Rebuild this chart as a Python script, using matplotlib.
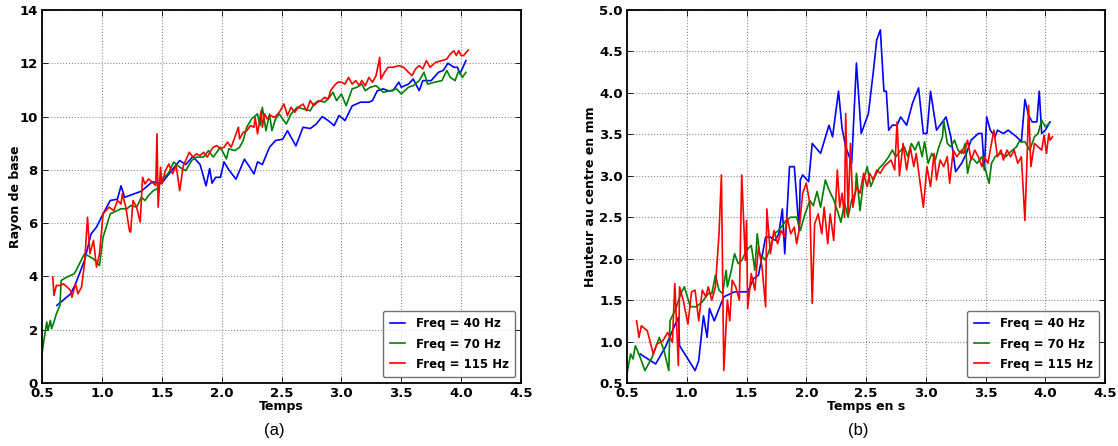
import numpy as np
import matplotlib
matplotlib.use("Agg")
import matplotlib.pyplot as plt

# ---- (a) Rayon de base ----
a_t40 = [0.624, 0.74, 0.78, 0.855, 0.91, 0.955, 1.01, 1.07, 1.13, 1.16, 1.19, 1.33, 1.42, 1.5, 1.56,
         1.65, 1.7, 1.76, 1.82, 1.87, 1.9, 1.92, 1.95, 1.99, 2.02, 2.06, 2.12, 2.19, 2.22, 2.27, 2.3,
         2.34, 2.4, 2.45, 2.51, 2.55, 2.58, 2.62, 2.68, 2.74, 2.79, 2.84, 2.89, 2.94, 2.98, 3.03, 3.09,
         3.16, 3.23, 3.26, 3.3, 3.35, 3.39, 3.43, 3.48, 3.5, 3.56, 3.6, 3.65, 3.68, 3.75, 3.81, 3.85,
         3.89, 3.94, 3.97, 3.99, 4.04]
a_r40 = [2.91, 3.35, 3.72, 4.6, 5.6, 5.85, 6.35, 6.85, 6.9, 7.4, 6.97, 7.2, 7.55, 7.5, 7.85,
         8.35, 8.2, 8.5, 8.2, 7.4, 8.05, 7.5, 7.72, 7.72, 8.3, 8.0, 7.65, 8.4, 8.2, 7.85, 8.3,
         8.2, 8.85, 9.1, 9.15, 9.47, 9.22, 8.9, 9.6, 9.55, 9.72, 10.0, 9.85, 9.66, 10.04, 9.85, 10.4,
         10.54, 10.54, 10.6, 10.97, 11.04, 10.97, 10.97, 11.29, 11.1, 11.22, 11.41, 10.97, 11.35, 11.35, 11.66, 11.73,
         12.0, 11.85, 11.85, 11.6, 12.1]

a_t70 = [0.5, 0.52, 0.54, 0.55, 0.57, 0.58, 0.6, 0.62, 0.65, 0.66, 0.71, 0.77, 0.855, 0.93, 0.98,
         1.01, 1.07, 1.1, 1.16, 1.21, 1.24, 1.29, 1.33, 1.36, 1.39, 1.43, 1.46, 1.5, 1.56, 1.6,
         1.65, 1.7, 1.75, 1.79, 1.85, 1.89, 1.93, 1.99, 2.04, 2.06, 2.11, 2.15, 2.18, 2.21, 2.25,
         2.3, 2.32, 2.34, 2.37, 2.4, 2.42, 2.45, 2.48, 2.54, 2.58, 2.63, 2.68, 2.74, 2.77, 2.81,
         2.86, 2.9, 2.93, 2.96, 3.0, 3.04, 3.09, 3.13, 3.17, 3.2, 3.24, 3.29, 3.35, 3.41, 3.46,
         3.5, 3.56, 3.6, 3.65, 3.69, 3.72, 3.78, 3.84, 3.88, 3.91, 3.95, 3.98, 4.01, 4.04]
a_r70 = [1.1, 1.72, 2.29, 1.98, 2.35, 2.04, 2.29, 2.6, 2.91, 3.85, 3.98, 4.1, 4.85, 4.66, 4.41,
         5.47, 6.35, 6.41, 6.54, 6.54, 6.66, 6.6, 6.97, 6.85, 7.04, 7.22, 7.29, 7.6, 7.91, 8.29,
         8.1, 7.97, 8.35, 8.48, 8.48, 8.72, 8.48, 8.85, 8.41, 8.79, 8.72, 8.85, 9.1, 9.6, 9.91,
         10.1, 9.66, 10.35, 9.47, 10.1, 9.47, 9.91, 10.1, 9.72, 10.1, 10.35, 10.29, 10.22, 10.47, 10.6,
         10.54, 10.72, 10.91, 10.6, 10.85, 10.41, 11.04, 11.1, 11.22, 10.97, 11.1, 11.16, 10.91, 10.97, 11.04,
         10.85, 11.1, 11.16, 11.35, 11.66, 11.22, 11.29, 11.35, 11.73, 11.47, 11.35, 11.73, 11.47, 11.66]

a_t115 = [0.59, 0.6, 0.62, 0.65, 0.68, 0.71, 0.74, 0.75, 0.78, 0.8, 0.83, 0.855, 0.88, 0.9, 0.93,
          0.955, 0.98, 1.01, 1.06, 1.1, 1.13, 1.16, 1.17, 1.2, 1.23, 1.24, 1.26, 1.29, 1.32, 1.34,
          1.36, 1.39, 1.42, 1.45, 1.46, 1.47, 1.49, 1.5, 1.53, 1.56, 1.59, 1.62, 1.65, 1.68, 1.7,
          1.73, 1.76, 1.79, 1.82, 1.85, 1.88, 1.91, 1.93, 1.96, 1.99, 2.02, 2.05, 2.08, 2.11, 2.14,
          2.15, 2.18, 2.21, 2.24, 2.27, 2.28, 2.3, 2.33, 2.34, 2.36, 2.38, 2.41, 2.44, 2.47, 2.49,
          2.52, 2.55, 2.58, 2.61, 2.64, 2.68, 2.71, 2.74, 2.77, 2.8, 2.83, 2.86, 2.89, 2.91, 2.94,
          2.97, 3.0, 3.03, 3.06, 3.09, 3.12, 3.15, 3.17, 3.2, 3.23, 3.26, 3.29, 3.32, 3.33, 3.36,
          3.39, 3.43, 3.48, 3.52, 3.56, 3.59, 3.62, 3.65, 3.68, 3.71, 3.74, 3.77, 3.79, 3.84, 3.88,
          3.91, 3.94, 3.96, 3.98, 4.0, 4.02, 4.06]
a_r115 = [3.98, 3.29, 3.66, 3.66, 3.72, 3.6, 3.47, 3.22, 3.72, 3.35, 3.6, 4.47, 6.22, 4.85, 5.35,
          4.35, 4.85, 6.35, 6.6, 6.47, 6.85, 6.72, 7.1, 6.6, 5.72, 5.66, 6.85, 6.6, 6.04, 7.72,
          7.47, 7.66, 7.54, 7.41, 9.35, 6.6, 8.1, 7.47, 7.97, 8.22, 7.85, 8.16, 7.22, 8.16, 8.35,
          8.66, 8.48, 8.6, 8.54, 8.66, 8.48, 8.72, 8.85, 8.91, 8.79, 8.85, 9.04, 8.85, 9.22, 9.6,
          9.16, 9.41, 9.47, 9.66, 9.6, 9.97, 9.35, 10.22, 9.6, 10.1, 9.91, 10.04, 9.97, 10.1, 10.22,
          10.47, 10.04, 10.35, 10.16, 10.35, 10.47, 10.22, 10.6, 10.41, 10.54, 10.6, 10.72, 10.66, 10.97, 11.16,
          11.29, 11.29, 11.22, 11.47, 11.22, 11.35, 11.16, 11.35, 11.16, 11.47, 11.29, 11.54, 12.22, 11.41, 11.66,
          11.85, 11.85, 11.91, 11.85, 11.66, 11.54, 11.79, 11.91, 11.79, 12.1, 11.85, 11.97, 12.04, 12.1, 12.16,
          12.35, 12.47, 12.29, 12.47, 12.29, 12.29, 12.5]

# ---- (b) Hauteur au centre ----
b_t40 = [0.61, 0.74, 0.82, 0.88, 0.93, 0.94, 1.07, 1.1, 1.14, 1.17, 1.19, 1.23, 1.31, 1.4, 1.51,
         1.56, 1.6, 1.66, 1.7, 1.74, 1.77, 1.8, 1.82, 1.86, 1.9, 1.94, 1.95, 1.97, 2.02, 2.05,
         2.12, 2.19, 2.22, 2.27, 2.3, 2.33, 2.38, 2.42, 2.46, 2.52, 2.56, 2.59, 2.62, 2.65, 2.67,
         2.69, 2.72, 2.76, 2.79, 2.84, 2.89, 2.94, 2.98, 3.01, 3.04, 3.09, 3.17, 3.21, 3.25, 3.3,
         3.34, 3.38, 3.44, 3.47, 3.49, 3.51, 3.54, 3.58, 3.6, 3.65, 3.69, 3.76, 3.8, 3.83, 3.86,
         3.89, 3.93, 3.95, 3.97, 4.0, 4.04]
b_h40 = [0.85, 0.73, 0.93, 1.13, 1.29, 0.95, 0.65, 0.77, 1.31, 1.05, 1.4, 1.25, 1.54, 1.6, 1.6,
         1.76, 1.8, 2.26, 2.26, 2.22, 2.3, 2.6, 2.06, 3.11, 3.11, 2.34, 2.95, 3.01, 2.93, 3.39,
         3.27, 3.61, 3.47, 4.02, 3.57, 3.35, 3.15, 4.36, 3.51, 3.75, 4.24, 4.64, 4.76, 4.02, 4.02,
         3.55, 3.61, 3.61, 3.71, 3.61, 3.88, 4.06, 3.51, 3.51, 4.02, 3.55, 3.71, 3.47, 3.05, 3.15,
         3.27, 3.43, 3.51, 3.51, 3.07, 3.71, 3.55, 3.47, 3.55, 3.51, 3.55, 3.47, 3.41, 3.92, 3.73,
         3.65, 3.65, 4.02, 3.51, 3.55, 3.65]

b_t70 = [0.5, 0.53, 0.55, 0.57, 0.61, 0.65, 0.71, 0.77, 0.81, 0.85, 0.86, 0.91, 0.95, 0.98, 1.03,
         1.08, 1.13, 1.18, 1.21, 1.24, 1.27, 1.3, 1.33, 1.34, 1.37, 1.4, 1.43, 1.46, 1.5, 1.54,
         1.57, 1.59, 1.61, 1.66, 1.7, 1.73, 1.77, 1.83, 1.87, 1.92, 1.95, 1.99, 2.03, 2.06, 2.09,
         2.12, 2.16, 2.19, 2.23, 2.26, 2.29, 2.32, 2.35, 2.38, 2.41, 2.42, 2.45, 2.48, 2.51, 2.54,
         2.58, 2.61, 2.65, 2.69, 2.72, 2.75, 2.78, 2.82, 2.85, 2.88, 2.91, 2.94, 2.97, 2.99, 3.02,
         3.05, 3.08, 3.11, 3.14, 3.15, 3.18, 3.21, 3.24, 3.27, 3.3, 3.33, 3.35, 3.38, 3.43, 3.47,
         3.5, 3.53, 3.55, 3.58, 3.63, 3.67, 3.71, 3.76, 3.78, 3.83, 3.87, 3.91, 3.94, 3.97, 4.0, 4.03]
b_h70 = [0.61, 0.85, 0.79, 0.95, 0.81, 0.65, 0.81, 1.05, 0.89, 0.65, 1.25, 1.4, 1.58, 1.66, 1.42,
         1.42, 1.48, 1.58, 1.58, 1.8, 1.62, 1.58, 1.86, 1.66, 1.84, 2.06, 1.94, 1.98, 2.1, 2.16,
         1.86, 2.3, 2.06, 1.98, 2.14, 2.3, 2.34, 2.46, 2.5, 2.5, 2.34, 2.54, 2.7, 2.64, 2.81,
         2.62, 2.95, 2.83, 2.71, 2.58, 2.44, 2.67, 2.5, 2.71, 2.79, 3.03, 2.58, 2.95, 3.11, 2.87,
         3.01, 3.09, 3.15, 3.23, 3.31, 3.23, 3.29, 3.35, 3.23, 3.39, 3.31, 3.41, 3.23, 3.41, 3.15,
         3.27, 3.19, 3.35, 3.47, 3.67, 3.39, 3.35, 3.43, 3.31, 3.27, 3.39, 3.03, 3.23, 3.15, 3.23,
         3.07, 2.91, 3.15, 3.23, 3.27, 3.23, 3.29, 3.35, 3.41, 3.41, 3.31, 3.47, 3.51, 3.67, 3.59, 3.63]

b_t115 = [0.58, 0.6, 0.62, 0.67, 0.72, 0.75, 0.8, 0.84, 0.88, 0.9, 0.93, 0.94, 0.97, 1.01, 1.04,
          1.07, 1.1, 1.13, 1.16, 1.18, 1.21, 1.24, 1.27, 1.29, 1.31, 1.34, 1.36, 1.38, 1.41, 1.44,
          1.46, 1.49, 1.5, 1.51, 1.54, 1.57, 1.6, 1.63, 1.66, 1.67, 1.7, 1.73, 1.76, 1.79, 1.82,
          1.84, 1.87, 1.9, 1.92, 1.94, 1.97, 2.0, 2.03, 2.05, 2.07, 2.1, 2.13, 2.15, 2.18, 2.2,
          2.23, 2.26, 2.28, 2.3, 2.32, 2.33, 2.35, 2.37, 2.39, 2.42, 2.45, 2.48, 2.51, 2.53, 2.56,
          2.59, 2.62, 2.65, 2.68, 2.71, 2.74, 2.76, 2.78, 2.81, 2.84, 2.87, 2.9, 2.92, 2.95, 2.98,
          3.01, 3.04, 3.07, 3.09, 3.12, 3.15, 3.18, 3.2, 3.23, 3.26, 3.3, 3.32, 3.35, 3.38, 3.41,
          3.44, 3.47, 3.49, 3.52, 3.57, 3.6, 3.63, 3.65, 3.68, 3.71, 3.74, 3.77, 3.8, 3.83, 3.85,
          3.86, 3.88, 3.91, 3.94, 3.97, 3.99, 4.01, 4.03, 4.04, 4.06]
b_h115 = [1.25, 1.05, 1.19, 1.13, 0.85, 0.97, 1.01, 1.11, 0.99, 1.7, 0.71, 1.66, 1.5, 1.21, 1.6,
          1.62, 1.25, 1.62, 1.54, 1.66, 1.5, 1.66, 2.3, 3.01, 0.65, 1.5, 1.25, 1.74, 1.66, 1.5,
          3.01, 1.98, 2.46, 1.4, 1.82, 1.62, 2.14, 1.9, 1.42, 2.6, 2.06, 2.34, 2.18, 2.34, 2.26,
          2.5, 2.3, 2.38, 2.18, 2.34, 2.79, 2.91, 2.67, 1.46, 2.42, 2.54, 2.3, 2.62, 2.18, 2.54,
          2.22, 3.07, 2.62, 2.79, 2.5, 3.75, 2.54, 3.39, 2.62, 2.87, 2.79, 3.03, 2.87, 3.03, 2.95,
          3.07, 3.03, 3.11, 3.15, 3.19, 3.07, 3.65, 3.0, 3.39, 3.07, 3.35, 3.11, 3.27, 2.95, 2.62,
          3.11, 2.87, 3.27, 2.95, 3.19, 3.11, 3.23, 2.91, 3.31, 3.23, 3.31, 3.27, 3.43, 3.19, 3.31,
          3.23, 3.11, 3.23, 3.15, 3.55, 3.23, 3.31, 3.19, 3.31, 3.23, 3.31, 3.15, 3.23, 2.46, 3.31,
          3.85, 3.11, 3.39, 3.35, 3.31, 3.49, 3.27, 3.51, 3.43, 3.47]

labels = ["Freq = 40 Hz", "Freq = 70 Hz", "Freq = 115 Hz"]
colors = ["#0000ff", "#008000", "#ff0000"]

fig = plt.figure(figsize=(11.18, 4.46), dpi=100)
ax_a = fig.add_axes([42 / 1118, 1 - 383 / 446, (521 - 42) / 1118, (383 - 10) / 446])
ax_b = fig.add_axes([627 / 1118, 1 - 383 / 446, (1105 - 627) / 1118, (383 - 10) / 446])


def style_axes(ax, xlabel, ylabel, ypad):
    ax.grid(True, color="0.55", linestyle=":", linewidth=0.8)
    ax.tick_params(direction="in", top=True, right=True, length=4, width=0.6, pad=3)
    for lab in ax.get_xticklabels() + ax.get_yticklabels():
        lab.set_fontweight("bold")
        lab.set_fontsize(9.5)
    for sp in ax.spines.values():
        sp.set_linewidth(1.3)
    ax.set_xlabel(xlabel, fontsize=9, fontweight="bold", labelpad=0)
    ax.set_ylabel(ylabel, fontsize=9, fontweight="bold", labelpad=ypad)
    leg = ax.legend(loc="lower right", prop={"weight": "bold", "size": 8.5},
                    fancybox=True, handlelength=1.3, handletextpad=0.9,
                    borderpad=0.55, labelspacing=0.6, borderaxespad=0.5)
    leg.get_frame().set_edgecolor("0.3")
    leg.get_frame().set_linewidth(1.0)


for t, v, lab, c in zip([a_t40, a_t70, a_t115], [a_r40, a_r70, a_r115], labels, colors):
    ax_a.plot(t, v, color=c, linewidth=1.2, label=lab)
ax_a.set_xlim(0.5, 4.5)
ax_a.set_ylim(0, 14)
ax_a.set_xticks(np.arange(0.5, 4.51, 0.5))
ax_a.set_yticks(np.arange(0, 14.1, 2))
ax_a.set_xticklabels([f"{x:.1f}" for x in np.arange(0.5, 4.51, 0.5)])
ax_a.set_yticklabels([f"{int(y)}" for y in np.arange(0, 14.1, 2)])
style_axes(ax_a, "Temps", "Rayon de base", -2)

for t, v, lab, c in zip([b_t40, b_t70, b_t115], [b_h40, b_h70, b_h115], labels, colors):
    ax_b.plot(t, v, color=c, linewidth=1.2, label=lab)
ax_b.set_xlim(0.5, 4.5)
ax_b.set_ylim(0.5, 5.0)
ax_b.set_xticks(np.arange(0.5, 4.51, 0.5))
ax_b.set_yticks(np.arange(0.5, 5.01, 0.5))
ax_b.set_xticklabels([f"{x:.1f}" for x in np.arange(0.5, 4.51, 0.5)])
ax_b.set_yticklabels([f"{y:.1f}" for y in np.arange(0.5, 5.01, 0.5)])
style_axes(ax_b, "Temps en s", "Hauteur au centre en mm", 1.5)

fig.text(274 / 1118, 1 - 431 / 446, "(a)", ha="center", va="center",
         fontsize=12, family="Liberation Sans")
fig.text(858 / 1118, 1 - 431 / 446, "(b)", ha="center", va="center",
         fontsize=12, family="Liberation Sans")

fig.savefig("out.png", dpi=100, facecolor="white")
